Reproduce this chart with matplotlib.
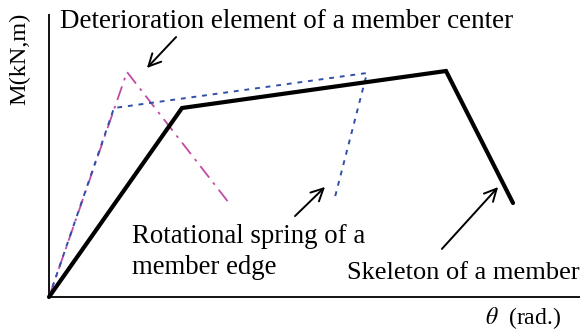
import matplotlib.pyplot as plt

# skeleton curve of a member (theta, M) in drawing units
skel_theta = [0, 133, 397, 464]
skel_M = [0, 189, 226, 94]

# rotational spring of a member edge
spring_theta = [0, 65, 318, 286]
spring_M = [0, 189, 224, 100]

# deterioration element of a member center
det_theta = [0, 78, 180]
det_M = [0, 225, 94]

plt.rcParams['font.family'] = ['Liberation Serif', 'DejaVu Serif']
plt.rcParams['mathtext.fontset'] = 'stix'

fig = plt.figure(figsize=(5.87, 3.33), dpi=100)
ax = fig.add_axes([0, 0, 1, 1])
ax.set_xlim(-49, 538)
ax.set_ylim(-36, 297)
ax.axis('off')

# axes
ax.plot([0, 0], [0, 283], color='black', lw=1.3, solid_capstyle='butt')
ax.plot([0, 531], [0, 0], color='black', lw=1.3, solid_capstyle='butt')

ax.plot(det_theta, det_M, color='#c04aa8', lw=1.3, dashes=(8, 3.5, 1.5, 3.5))
ax.plot(spring_theta, spring_M, color='#3050a8', lw=1.4, dashes=(2.5, 3))
ax.plot(skel_theta, skel_M, color='black', lw=3.0, solid_capstyle='round',
        solid_joinstyle='miter')

arrow = dict(arrowstyle='->', color='black', lw=1.4, mutation_scale=22)
ax.annotate('', xy=(96, 227), xytext=(129, 262), arrowprops=arrow)
ax.annotate('', xy=(278, 112), xytext=(244, 79), arrowprops=arrow)
ax.annotate('', xy=(451, 112), xytext=(391, 46), arrowprops=arrow)

fs = 19.3
ax.text(11, 275, 'Deterioration element of a member center', fontsize=19.5,
        ha='left', va='center')
ax.text(-29, 238, 'M(kN,m)', fontsize=17.5, rotation=90, ha='center', va='center')
ax.text(83, 45, 'Rotational spring of a\nmember edge', fontsize=fs,
        ha='left', va='center', linespacing=1.3)
ax.text(298, 24, 'Skeleton of a member', fontsize=19, ha='left', va='center')
ax.text(436, -21, r'$\theta$' + '  (rad.)', fontsize=17, ha='left', va='center')

fig.savefig('out.png', dpi=100)
